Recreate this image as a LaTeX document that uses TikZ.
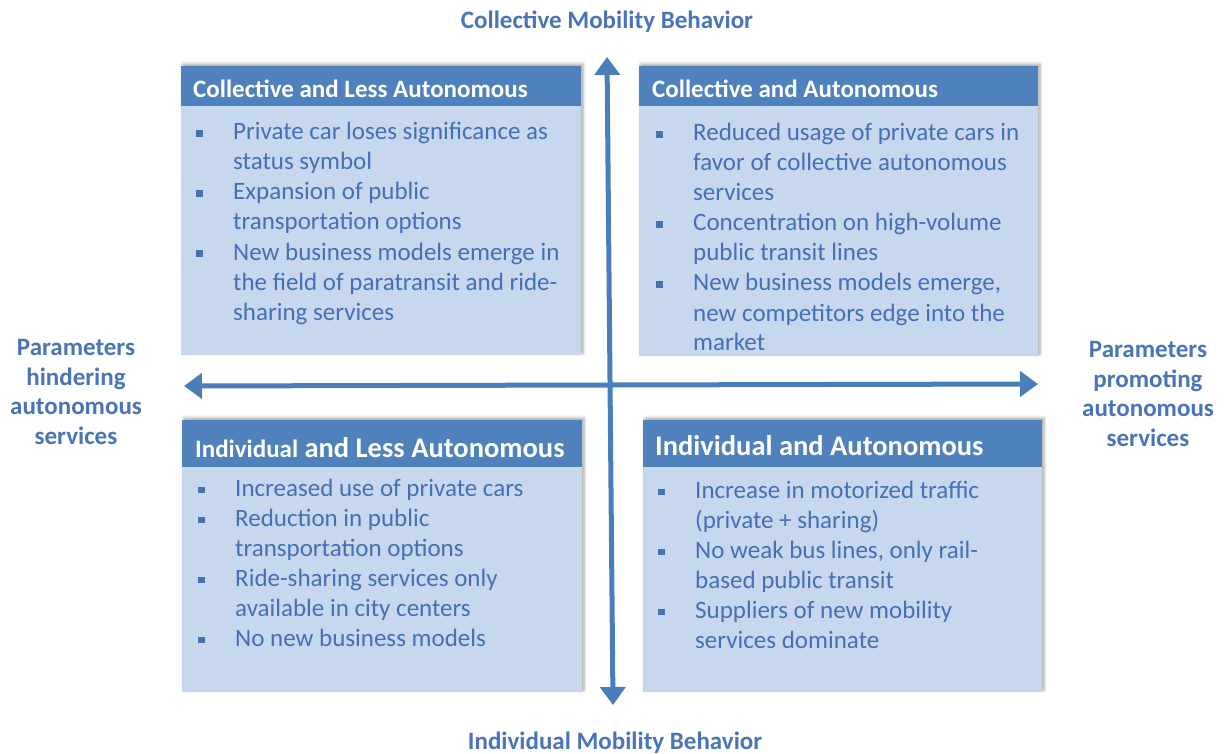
\documentclass[tikz,border=0pt]{standalone}
\usepackage{fontspec}
\setmainfont{Carlito}
\usetikzlibrary{arrows.meta,shadows.blur}
\definecolor{hdr}{HTML}{4F81BD}
\definecolor{bodyfill}{HTML}{C7D7EE}
\definecolor{txt}{HTML}{4370B6}
\definecolor{ttl}{HTML}{4A74B8}
\definecolor{arr}{HTML}{4A7EBB}
\newcommand{\bsq}{\makebox[37pt][l]{\raisebox{3pt}{\color{hdr!90!black}\rule{6.5pt}{6.5pt}}}}
\newcommand{\ind}{\hspace*{37pt}}
\newcommand{\blist}[1]{\parbox[t]{380pt}{\raggedright\fontsize{25}{30}\selectfont #1}}
\tikzset{
  bodybox/.style={fill=bodyfill, draw=none, blur shadow={shadow xshift=2pt, shadow yshift=2pt, shadow blur radius=3pt, shadow opacity=35}},
  hdrbox/.style={fill=hdr, draw=none},
  hdrtext/.style={anchor=base west, inner sep=0pt, text=white, font=\bfseries\fontsize{25}{30}\selectfont},
  bodytext/.style={anchor=base west, inner sep=0pt, text=txt},
  titletext/.style={inner sep=0pt, text=ttl, font=\bfseries\fontsize{25}{29.5}\selectfont, align=center},
  axis/.style={draw=arr, line width=5pt, {Triangle[width=25pt,length=18pt]}-{Triangle[width=25pt,length=18pt]}},
}
\begin{document}
\begin{tikzpicture}[x=1pt,y=-1pt]
\useasboundingbox (0,0) rectangle (1225,754);
% boxes
\path[bodybox] (181,66) rectangle (581,355);
\path[hdrbox] (181,66) rectangle (581,106);
\path[bodybox] (639,66) rectangle (1038,356);
\path[hdrbox] (639,66) rectangle (1038,106);
\path[bodybox] (182,420) rectangle (582,692);
\path[hdrbox] (182,420) rectangle (582,467);
\path[bodybox] (643,420) rectangle (1042,692);
\path[hdrbox] (643,420) rectangle (1042,467);
% headers
\node[hdrtext] (h1) at (193,98) {Collective and Less Autonomous};
\node[hdrtext] (h2) at (652,98) {Collective and Autonomous};
\node[hdrtext, font=\bfseries\fontsize{28.5}{32}\selectfont] (h3) at (195,457) {{\fontsize{25}{30}\selectfont Individual} and Less Autonomous};
\node[hdrtext, font=\bfseries\fontsize{28.5}{32}\selectfont] (h4) at (655,455) {Individual and Autonomous};
% bodies
\node[bodytext] (b1) at (196,140) {\blist{\bsq Private car loses significance as\\ \ind status symbol\\ \bsq Expansion of public\\ \ind transportation options\\ \bsq New business models emerge in\\ \ind the field of paratransit and ride-\\ \ind sharing services}};
\node[bodytext] (b2) at (656,141) {\blist{\bsq Reduced usage of private cars in\\ \ind favor of collective autonomous\\ \ind services\\ \bsq Concentration on high-volume\\ \ind public transit lines\\ \bsq New business models emerge,\\ \ind new competitors edge into the\\ \ind market}};
\node[bodytext] (b3) at (198,496) {\blist{\bsq Increased use of private cars\\ \bsq Reduction in public\\ \ind transportation options\\ \bsq Ride-sharing services only\\ \ind available in city centers\\ \bsq No new business models}};
\node[bodytext] (b4) at (658,498) {\blist{\bsq Increase in motorized traffic\\ \ind (private + sharing)\\ \bsq No weak bus lines, only rail-\\ \ind based public transit\\ \bsq Suppliers of new mobility\\ \ind services dominate}};
% axes
\coordinate (vt) at (607,57);
\coordinate (vb) at (613,705);
\coordinate (hl) at (184,386);
\coordinate (hr) at (1038,384);
\draw[axis] (vb) -- (vt);
\draw[axis] (hl) -- (hr);
% titles
\node[titletext] (t1) at (607,22) {Collective Mobility Behavior};
\node[titletext] (t2) at (615,743) {Individual Mobility Behavior};
\node[titletext] (t3) at (76,392) {Parameters\\hindering\\autonomous\\services};
\node[titletext] (t4) at (1148,394) {Parameters\\promoting\\autonomous\\services};
\end{tikzpicture}
\end{document}
